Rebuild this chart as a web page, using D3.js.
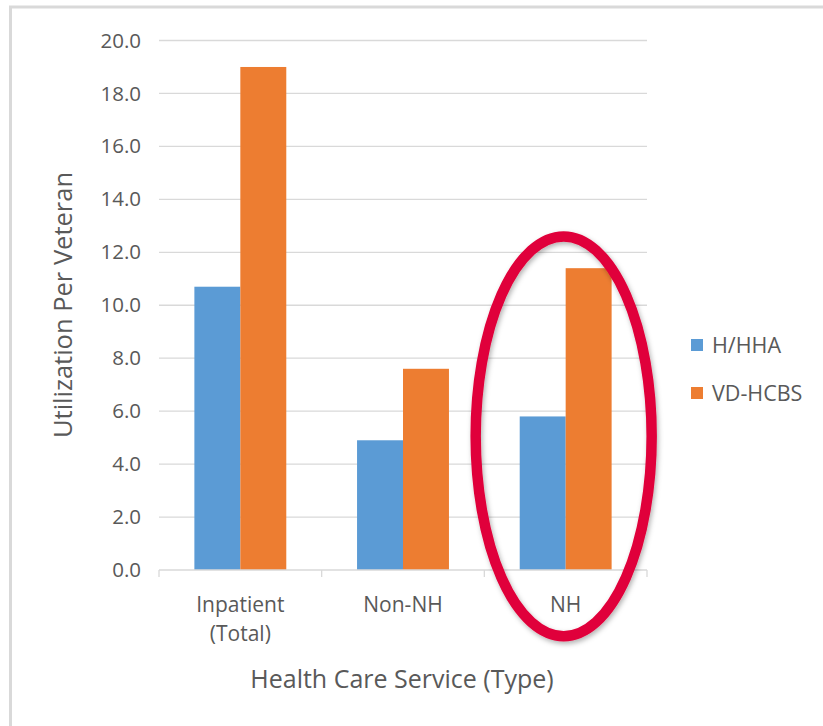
<!DOCTYPE html>
<html>
<head>
<meta charset="utf-8">
<script src="https://cdn.jsdelivr.net/npm/d3@7"></script>
<style>
  html, body { margin: 0; padding: 0; background: #ffffff; }
  svg { display: block; }
  text { font-family: "Open Sans", "Noto Sans", sans-serif; fill: #595959; }
</style>
</head>
<body>
<svg id="chart" width="823" height="726"></svg>
<script>
// Utilization per veteran by health care service type
const categories = ["Inpatient\n(Total)", "Non-NH", "NH"];
const seriesNames = ["H/HHA", "VD-HCBS"];
const hhaValues = [10.7, 4.9, 5.8];
const vdhcbsValues = [19.0, 7.6, 11.4];
const yTicks = [0, 2, 4, 6, 8, 10, 12, 14, 16, 18, 20];
const colors = ["#5B9BD5", "#ED7D31"];
const highlightCategory = "NH";
const highlightRange = [-2.5, 12.6]; // vertical extent of the highlight ring, in data units

const rows = categories.map((c, i) => ({ category: c, values: [hhaValues[i], vdhcbsValues[i]] }));

const svg = d3.select("#chart");

// outer frame
svg.append("path")
  .attr("d", "M10.5,726 L10.5,7 L823,7")
  .attr("fill", "none")
  .attr("stroke", "#d9d9d9")
  .attr("stroke-width", 3);

const plot = { left: 159, right: 647, top: 40.5, bottom: 570 };

const x0 = d3.scaleBand().domain(categories).range([plot.left, plot.right]).padding(0);
const groupShare = 0.565;
const bw = x0.bandwidth();
const x1 = d3.scaleBand().domain(seriesNames)
  .range([bw * (1 - groupShare) / 2, bw * (1 + groupShare) / 2]).padding(0);
const y = d3.scaleLinear().domain([0, 20]).range([plot.bottom, plot.top]);

// horizontal gridlines
svg.append("g")
  .selectAll("line")
  .data(yTicks.filter(t => t > 0))
  .join("line")
  .attr("x1", plot.left).attr("x2", plot.right)
  .attr("y1", d => y(d)).attr("y2", d => y(d))
  .attr("stroke", "#d9d9d9").attr("stroke-width", 1.3);

// y axis labels
const yAxis = svg.append("g")
  .attr("transform", `translate(${plot.left},0)`)
  .call(d3.axisLeft(y).tickValues(yTicks).tickFormat(d3.format(".1f")).tickSize(0).tickPadding(18));
yAxis.select(".domain").remove();
yAxis.selectAll("text")
  .style("font-family", '"Open Sans", sans-serif')
  .style("font-size", "20.5px")
  .attr("fill", "#595959");

// bars
const groups = svg.append("g")
  .selectAll("g")
  .data(rows)
  .join("g")
  .attr("transform", d => `translate(${x0(d.category)},0)`);

groups.selectAll("rect")
  .data(d => d.values.map((v, i) => ({ key: seriesNames[i], value: v, idx: i })))
  .join("rect")
  .attr("x", d => x1(d.key))
  .attr("width", x1.bandwidth())
  .attr("y", d => y(d.value))
  .attr("height", d => y(0) - y(d.value))
  .attr("fill", d => colors[d.idx]);

// x axis baseline with category separators
const xAxis = svg.append("g")
  .attr("transform", `translate(0,${plot.bottom})`);
xAxis.append("line")
  .attr("x1", plot.left).attr("x2", plot.right)
  .attr("stroke", "#d9d9d9").attr("stroke-width", 1.3);
const boundaries = categories.map(c => x0(c)).concat([x0(categories[categories.length - 1]) + bw]);
xAxis.selectAll("line.sep")
  .data(boundaries)
  .join("line")
  .attr("class", "sep")
  .attr("x1", d => d).attr("x2", d => d)
  .attr("y1", 0).attr("y2", 7)
  .attr("stroke", "#d9d9d9").attr("stroke-width", 1.3);

// category labels
const catLabels = svg.append("g")
  .selectAll("text")
  .data(categories)
  .join("text")
  .attr("x", d => x0(d) + bw / 2)
  .attr("y", 612)
  .attr("text-anchor", "middle")
  .style("font-size", "21px");
catLabels.each(function(d) {
  const lines = d.split("\n");
  d3.select(this).selectAll("tspan")
    .data(lines)
    .join("tspan")
    .attr("x", x0(d) + bw / 2)
    .attr("dy", (l, i) => i === 0 ? 0 : 29)
    .text(l => l);
});

// axis titles
svg.append("text")
  .attr("x", (plot.left + plot.right) / 2 - 1)
  .attr("y", 688)
  .attr("text-anchor", "middle")
  .style("font-size", "25px")
  .text("Health Care Service (Type)");

svg.append("text")
  .attr("transform", "translate(72,305) rotate(-90)")
  .attr("text-anchor", "middle")
  .style("font-size", "25.5px")
  .text("Utilization Per Veteran");

// legend
const legend = svg.append("g")
  .selectAll("g")
  .data(seriesNames)
  .join("g")
  .attr("transform", (d, i) => `translate(691,${339 + i * 48})`);
legend.append("rect")
  .attr("width", 12).attr("height", 12)
  .attr("fill", (d, i) => colors[i]);
legend.append("text")
  .attr("x", 21).attr("y", 14)
  .style("font-size", "21.5px")
  .text(d => d);

// highlight ring around the NH group
const defs = svg.append("defs");
const shadow = defs.append("filter").attr("id", "ringShadow")
  .attr("x", "-20%").attr("y", "-20%").attr("width", "140%").attr("height", "140%");
shadow.append("feDropShadow")
  .attr("dx", 1.5).attr("dy", 2.5).attr("stdDeviation", 2.5)
  .attr("flood-color", "#000").attr("flood-opacity", 0.3);

const cx = x0(highlightCategory) + bw / 2 - 2;
const cyTop = y(highlightRange[1]);
const cyBottom = y(highlightRange[0]);
svg.append("ellipse")
  .attr("cx", cx)
  .attr("cy", (cyTop + cyBottom) / 2)
  .attr("rx", 88)
  .attr("ry", (cyBottom - cyTop) / 2)
  .attr("fill", "none")
  .attr("stroke", "#E0003A")
  .attr("stroke-width", 10.5)
  .attr("filter", "url(#ringShadow)");
</script>
</body>
</html>
